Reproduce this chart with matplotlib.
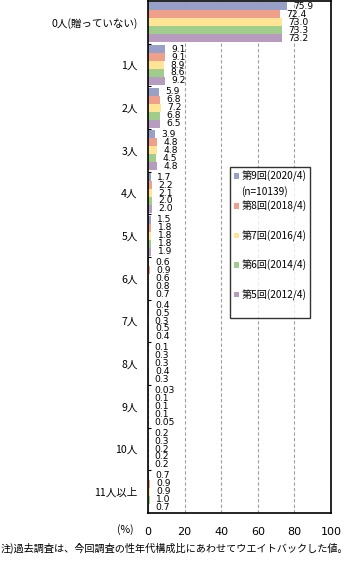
import matplotlib
matplotlib.use("Agg")
import matplotlib.pyplot as plt
from matplotlib.patches import Patch

plt.rcParams['font.family'] = ['Noto Sans CJK JP', 'DejaVu Sans']

categories = ['0人(贈っていない)', '1人', '2人', '3人', '4人', '5人', '6人', '7人',
              '8人', '9人', '10人', '11人以上']
series_names = ['第9回(2020/4)', '第8回(2018/4)', '第7回(2016/4)',
                '第6回(2014/4)', '第5回(2012/4)']
r9 = [75.9, 9.1, 5.9, 3.9, 1.7, 1.5, 0.6, 0.4, 0.1, 0.03, 0.2, 0.7]
r8 = [72.4, 9.1, 6.8, 4.8, 2.2, 1.8, 0.9, 0.5, 0.3, 0.1, 0.3, 0.9]
r7 = [73.0, 8.9, 7.2, 4.8, 2.1, 1.8, 0.6, 0.3, 0.3, 0.1, 0.2, 0.9]
r6 = [73.3, 8.6, 6.8, 4.5, 2.0, 1.8, 0.8, 0.5, 0.4, 0.1, 0.2, 1.0]
r5 = [73.2, 9.2, 6.5, 4.8, 2.0, 1.9, 0.7, 0.4, 0.3, 0.05, 0.2, 0.7]
colors = ['#98a0c8', '#eea08a', '#ffe595', '#a0cc8c', '#b89cc0']

fig = plt.figure(figsize=(3.51, 5.72), dpi=100)
ax = fig.add_axes([148/351, 1 - 513/572, 183/351, 512/572])

narrow = ['Liberation Sans Narrow', 'DejaVu Sans']
allv = [r9, r8, r7, r6, r5]
h = 0.186
for k, vals in enumerate(allv):
    ys = [i - 2*h + k*h for i in range(len(categories))]
    ax.barh(ys, vals, height=h, color=colors[k], label=series_names[k])
    for y, v in zip(ys, vals):
        s = '%.2f' % v if v < 0.1 else '%.1f' % v
        ax.annotate(s, (v, y), xytext=(4.5, 0), textcoords='offset points',
                    va='center', ha='left', fontsize=6.6, family=narrow)

ax.set_xlim(0, 100)
ax.set_ylim(len(categories) - 0.5, -0.5)
ax.set_yticks(range(len(categories)))
ax.set_yticklabels(categories, fontsize=7.6)
ax.set_yticks([i + 0.5 for i in range(len(categories) - 1)], minor=True)
ax.tick_params(axis='y', which='major', length=0, pad=7.5)
ax.tick_params(axis='y', which='minor', length=2, direction='in', width=0.8)
ax.set_xticks([0, 20, 40, 60, 80, 100])
ax.set_xticklabels(['0', '20', '40', '60', '80', '100'], fontsize=8, family=narrow)
ax.tick_params(axis='x', length=0, pad=10)
ax.xaxis.grid(True, linestyle=(0, (3, 2)), color='#a0a0a0', linewidth=0.8)
ax.set_axisbelow(True)
for sp in ax.spines.values():
    sp.set_linewidth(1.2)

fig.text(125/351, 1 - 530/572, '(%)', fontsize=7.6, ha='center', va='center')
fig.text(0.003, 1 - 548/572, '注)過去調査は、今回調査の性年代構成比にあわせてウエイトバックした値。',
         fontsize=7.3, ha='left', va='center')

handles = []
labels = []
blank = Patch(facecolor='none', edgecolor='none')
for k in range(5):
    handles.append(Patch(facecolor=colors[k], edgecolor='none'))
    labels.append(series_names[k])
    if k == 0:
        handles.append(blank)
        labels.append('(n=10139)')
    else:
        handles.append(blank)
        labels.append(' ')
leg = ax.legend(handles, labels, loc='upper left', bbox_to_anchor=(230/351, 1 - 167/572),
                bbox_transform=fig.transFigure, fontsize=7.3, frameon=True,
                fancybox=False, edgecolor='black', handlelength=0.5, handleheight=0.5,
                handletextpad=0.25, labelspacing=0.4, borderpad=0.35, borderaxespad=0)
leg.get_frame().set_linewidth(1.0)

fig.savefig('out.png', dpi=100)
